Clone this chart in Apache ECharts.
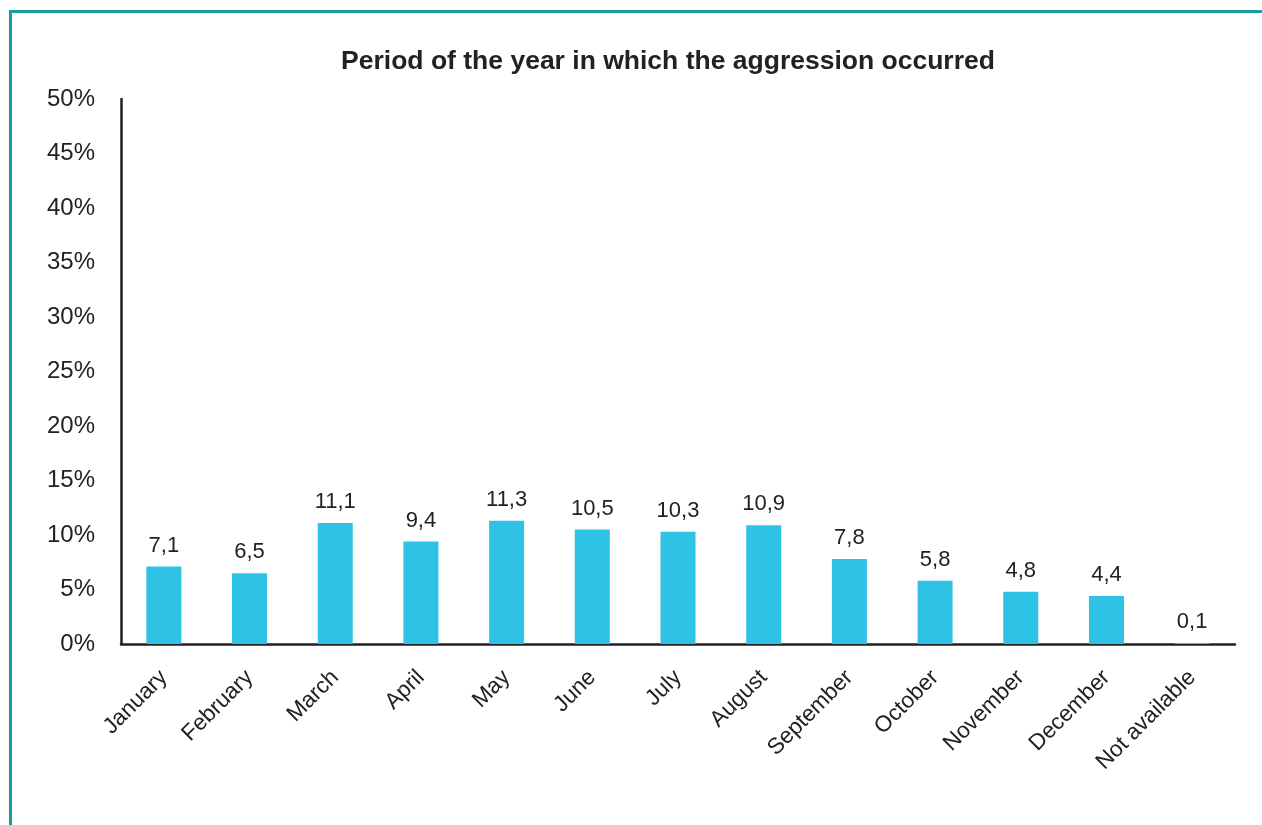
<!DOCTYPE html>
<html><head><meta charset="utf-8">
<script src="https://cdn.jsdelivr.net/npm/echarts@6/dist/echarts.min.js"></script>
<style>html,body{margin:0;padding:0;background:#fff}#c{width:1262px;height:825px}</style>
</head><body><div id="c"></div>
<script>
const categories = ["January","February","March","April","May","June","July","August","September","October","November","December","Not available"];
const values = [7.1, 6.5, 11.1, 9.4, 11.3, 10.5, 10.3, 10.9, 7.8, 5.8, 4.8, 4.4, 0.1];
const title = "Period of the year in which the aggression occurred";

const chart = echarts.init(document.getElementById('c'), null, {renderer:'canvas'});
const font = '"Liberation Sans", Arial, Helvetica, sans-serif';
chart.setOption({
  animation:false,
  backgroundColor:'#fff',
  textStyle:{fontFamily:font},
  title:{text:title, left:663, top:43, textAlign:'center',
    textStyle:{fontFamily:font, fontSize:26.5, fontWeight:'bold', color:'#222'}},
  graphic:[{type:'polyline', shape:{points:[[10.5,825],[10.5,11.5],[1262,11.5]]},
    style:{stroke:'#169e9b', lineWidth:3, fill:null}}],
  grid:{left:121, right:27, top:99, bottom:181, containLabel:false},
  xAxis:{type:'category', data:categories,
    axisLine:{lineStyle:{color:'#231f20', width:2.5}},
    axisTick:{show:false},
    axisLabel:{rotate:45, interval:0, fontSize:22.5, color:'#222', margin:30, fontFamily:font}},
  yAxis:{type:'value', min:0, max:50, interval:5,
    axisLine:{show:true, lineStyle:{color:'#231f20', width:2.5}},
    axisTick:{show:false}, splitLine:{show:false},
    axisLabel:{formatter:'{value}%', fontSize:24, color:'#222', margin:26, fontFamily:font}},
  series:[{type:'bar', data:values, barWidth:35, itemStyle:{color:'#2ec2e5'},
    label:{show:true, position:'top', distance:10, fontSize:22, color:'#222', fontFamily:font,
      formatter:p=>String(p.value).replace('.',',')}}]
});
</script></body></html>
